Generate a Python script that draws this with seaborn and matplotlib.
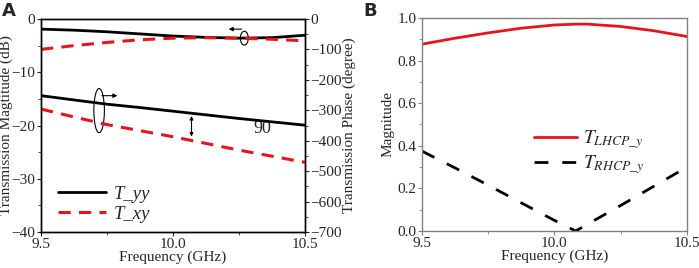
import numpy as np
import pandas as pd
import matplotlib
matplotlib.use("Agg")
import matplotlib.pyplot as plt
import seaborn as sns
from matplotlib.patches import Ellipse
from matplotlib.ticker import MultipleLocator

# panel A data
freq_a = [9.5, 9.625, 9.75, 9.875, 10.0, 10.125, 10.25, 10.375, 10.5]
tyy_mag = [-1.9, -2.1, -2.4, -2.8, -3.2, -3.45, -3.6, -3.5, -3.05]
txy_mag = [-5.7, -5.0, -4.4, -3.9, -3.6, -3.5, -3.6, -3.8, -4.1]
tyy_phase = [-252, -266, -280, -291, -303, -315, -327, -338, -349]
txy_phase = [-296, -322, -347, -367, -387, -409, -431, -451, -471]

# panel B data
freq_b = [9.5, 9.625, 9.75, 9.875, 10.0, 10.08, 10.125, 10.25, 10.375, 10.5]
lhcp = [0.877, 0.905, 0.930, 0.952, 0.967, 0.971, 0.971, 0.960, 0.940, 0.913]
rhcp = [0.375, 0.296, 0.215, 0.132, 0.050, 0.0, 0.032, 0.12, 0.21, 0.30]

sns.set_style("ticks")
plt.rcParams['font.family'] = ['Liberation Serif', 'DejaVu Serif']
plt.rcParams['mathtext.fontset'] = 'stix'
plt.rcParams['font.size'] = 11
plt.rcParams['xtick.labelsize'] = 11
plt.rcParams['ytick.labelsize'] = 11

df_a = pd.DataFrame({'f': freq_a, 'tyy_m': tyy_mag, 'txy_m': txy_mag,
                     'tyy_p': tyy_phase, 'txy_p': txy_phase})
df_b = pd.DataFrame({'f': freq_b, 'lhcp': lhcp, 'rhcp': rhcp})

fig = plt.figure(figsize=(6.99, 2.68), dpi=100)
ax = fig.add_axes([0.0587, 0.1343, 0.3777, 0.7948])
ax2 = ax.twinx()

sns.lineplot(data=df_a, x='f', y='tyy_m', ax=ax, color='black', lw=2, label='T_yy')
sns.lineplot(data=df_a, x='f', y='txy_m', ax=ax, color='#e8141c', lw=2.2, label='T_xy')
ax.lines[1].set_dashes([4, 2.7])
sns.lineplot(data=df_a, x='f', y='tyy_p', ax=ax2, color='black', lw=2, legend=False)
sns.lineplot(data=df_a, x='f', y='txy_p', ax=ax2, color='#e8141c', lw=2.2, legend=False)
ax2.lines[1].set_dashes([4, 2.7])

ax.set_xlim(9.5, 10.5)
ax.set_ylim(-40, 0)
ax2.set_ylim(-700, 0)
ax.set_xticks([9.5, 10.0, 10.5])
ax.set_xticklabels(['9.5', '10.0', '10.5'])
ax.xaxis.set_minor_locator(MultipleLocator(0.25))
ax.yaxis.set_major_locator(MultipleLocator(10))
ax.yaxis.set_minor_locator(MultipleLocator(5))
ax2.yaxis.set_major_locator(MultipleLocator(100))
ax2.yaxis.set_minor_locator(MultipleLocator(50))
for a in (ax, ax2):
    a.tick_params(which='major', length=3, width=0.8, pad=1)
    a.tick_params(which='minor', length=2, width=0.6)
    for s in a.spines.values():
        s.set_linewidth(1.0)
        s.set_color('black')
ax.set_xlabel('Frequency (GHz)', labelpad=0)
ax.set_ylabel('Transmission Magtitude (dB)', labelpad=-1)
ax2.set_ylabel('Transmission Phase (degree)', labelpad=0)

ax.legend(loc='lower left', frameon=False, handlelength=2.6,
          prop={'style': 'italic', 'size': 13.5}, borderaxespad=0.2,
          labelspacing=0.15, handletextpad=0.4, bbox_to_anchor=(0.02, -0.01))

# annotations
ax.add_patch(Ellipse((10.27, -3.6), 0.03, 2.6, fill=False, lw=0.8, color='black'))
ax.annotate('', xy=(10.2, -1.9), xytext=(10.27, -1.9),
            arrowprops=dict(arrowstyle='-|>', lw=0.8, color='black', mutation_scale=6))
ax.add_patch(Ellipse((9.72, -17.2), 0.04, 8.3, fill=False, lw=0.8, color='black'))
ax.annotate('', xy=(9.8, -14.4), xytext=(9.72, -14.4),
            arrowprops=dict(arrowstyle='-|>', lw=0.8, color='black', mutation_scale=6))
ax.annotate('', xy=(10.07, -17.7), xytext=(10.07, -22.6),
            arrowprops=dict(arrowstyle='<|-|>', lw=0.8, color='black', mutation_scale=5))
ax.text(10.34, -20.6, '90', fontsize=13, ha='center', va='center')

# panel B
bx = fig.add_axes([0.6037, 0.138, 0.379, 0.795])
sns.lineplot(data=df_b, x='f', y='lhcp', ax=bx, color='#e8141c', lw=2,
             label=r'$T_{LHCP\_y}$')
sns.lineplot(data=df_b, x='f', y='rhcp', ax=bx, color='black', lw=2,
             label=r'$T_{RHCP\_y}$')
bx.lines[1].set_dashes([5, 5])
bx.set_xlim(9.5, 10.5)
bx.set_ylim(0, 1.0)
bx.set_xticks([9.5, 10.0, 10.5])
bx.set_xticklabels(['9.5', '10.0', '10.5'])
bx.xaxis.set_minor_locator(MultipleLocator(0.25))
bx.yaxis.set_major_locator(MultipleLocator(0.2))
bx.yaxis.set_minor_locator(MultipleLocator(0.1))
bx.set_yticks([0.0, 0.2, 0.4, 0.6, 0.8, 1.0])
bx.set_yticklabels(['0.0', '0.2', '0.4', '0.6', '0.8', '1.0'])
bx.tick_params(which='major', length=3, width=0.8, pad=1, color='#808080')
bx.tick_params(which='minor', length=2, width=0.6, color='#808080')
for s in bx.spines.values():
    s.set_visible(True)
    s.set_linewidth(1.0)
    s.set_color('#808080')
bx.set_xlabel('Frequency (GHz)', labelpad=0)
bx.set_ylabel('Magnitude', labelpad=2)
bx.legend(loc='center', bbox_to_anchor=(0.63, 0.37), frameon=False,
          handlelength=2.2, prop={'size': 14}, labelspacing=0.1, handletextpad=0.3)

fig.text(0.003, 0.94, 'A', fontsize=13, fontweight='bold', family='DejaVu Sans')
fig.text(0.52, 0.94, 'B', fontsize=13, fontweight='bold', family='DejaVu Sans')

fig.savefig('out.png', dpi=100)
